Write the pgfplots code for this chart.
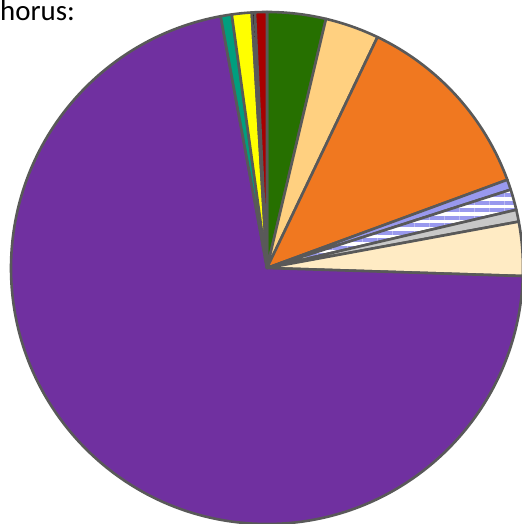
\documentclass[border=0pt]{standalone}
\usepackage{fontspec}
\setmainfont{Carlito}
\usepackage{pgfplots}
\pgfplotsset{compat=1.18}
\usepackage{pgfplotstable}
\usetikzlibrary{patterns.meta}

\definecolor{cGreen}{RGB}{38,112,0}
\definecolor{cPeach}{RGB}{255,208,128}
\definecolor{cOrange}{RGB}{240,120,32}
\definecolor{cLav}{RGB}{153,153,238}
\definecolor{cGray}{RGB}{200,200,200}
\definecolor{cCream}{RGB}{255,235,196}
\definecolor{cPurple}{RGB}{112,48,160}
\definecolor{cTeal}{RGB}{0,158,126}
\definecolor{cYellow}{RGB}{255,255,0}
\definecolor{cDarkRed}{RGB}{168,0,0}
\definecolor{edgegray}{RGB}{89,89,89}

\tikzset{
  sl-green/.style={fill=cGreen},
  sl-peach/.style={fill=cPeach},
  sl-orange/.style={fill=cOrange},
  sl-lav/.style={fill=cLav},
  sl-stripe/.style={preaction={fill=white}, pattern={Lines[angle=0,distance=7.5pt,line width=4pt]}, pattern color=cLav},
  sl-gray/.style={fill=cGray},
  sl-cream/.style={fill=cCream},
  sl-purple/.style={fill=cPurple},
  sl-teal/.style={fill=cTeal},
  sl-yellow/.style={fill=cYellow},
  sl-black/.style={fill=black},
  sl-darkred/.style={fill=cDarkRed},
}

% slice shares (percent), clockwise from 12 o'clock
\pgfplotstableread{
value style
3.7 sl-green
3.4 sl-peach
12.3 sl-orange
0.65 sl-lav
1.3 sl-stripe
0.75 sl-gray
3.4 sl-cream
71.6 sl-purple
0.7 sl-teal
1.25 sl-yellow
0.2 sl-black
0.75 sl-darkred
}\piedata

\pgfplotstablegetrowsof{\piedata}
\pgfmathtruncatemacro{\nlast}{\pgfplotsretval-1}
\gdef\pietot{0}
\foreach \i in {0,...,\nlast}{%
  \pgfplotstablegetelem{\i}{value}\of\piedata
  \pgfmathsetmacro{\pietmp}{\pietot+\pgfplotsretval}%
  \xdef\pietot{\pietmp}%
}
\gdef\piecum{0}
\foreach \i in {0,...,\nlast}{%
  \pgfplotstablegetelem{\i}{value}\of\piedata
  \pgfmathsetmacro{\angA}{90-360*(\piecum/\pietot)}%
  \pgfmathsetmacro{\cumnew}{\piecum+\pgfplotsretval}%
  \pgfmathsetmacro{\angB}{90-360*(\cumnew/\pietot)}%
  \expandafter\xdef\csname sA\i\endcsname{\angA}%
  \expandafter\xdef\csname eA\i\endcsname{\angB}%
  \xdef\piecum{\cumnew}%
  \pgfplotstablegetelem{\i}{style}\of\piedata
  \expandafter\xdef\csname st\i\endcsname{\pgfplotsretval}%
}

\begin{document}
\begin{tikzpicture}
\begin{axis}[hide axis, scale only axis, width=522bp, height=524bp,
  xmin=0, xmax=522, ymin=0, ymax=524, clip=false]
\pgfplotsinvokeforeach{0,...,\nlast}{%
  \edef\tmp{\noexpand\path[\csname st#1\endcsname, draw=edgegray, line width=2.6bp, line join=round]
    (axis cs:267,256) -- ++(\csname sA#1\endcsname:256bp)
    arc[start angle=\csname sA#1\endcsname, end angle=\csname eA#1\endcsname, radius=256bp] -- cycle;}%
  \tmp
}
\node[anchor=base west, inner sep=0pt, font=\fontsize{29}{31}\selectfont] at (axis cs:0,503.5) {horus:};
\end{axis}
\pgfresetboundingbox
\path[use as bounding box] (current axis.south west) rectangle (current axis.north east);
\end{tikzpicture}
\end{document}
